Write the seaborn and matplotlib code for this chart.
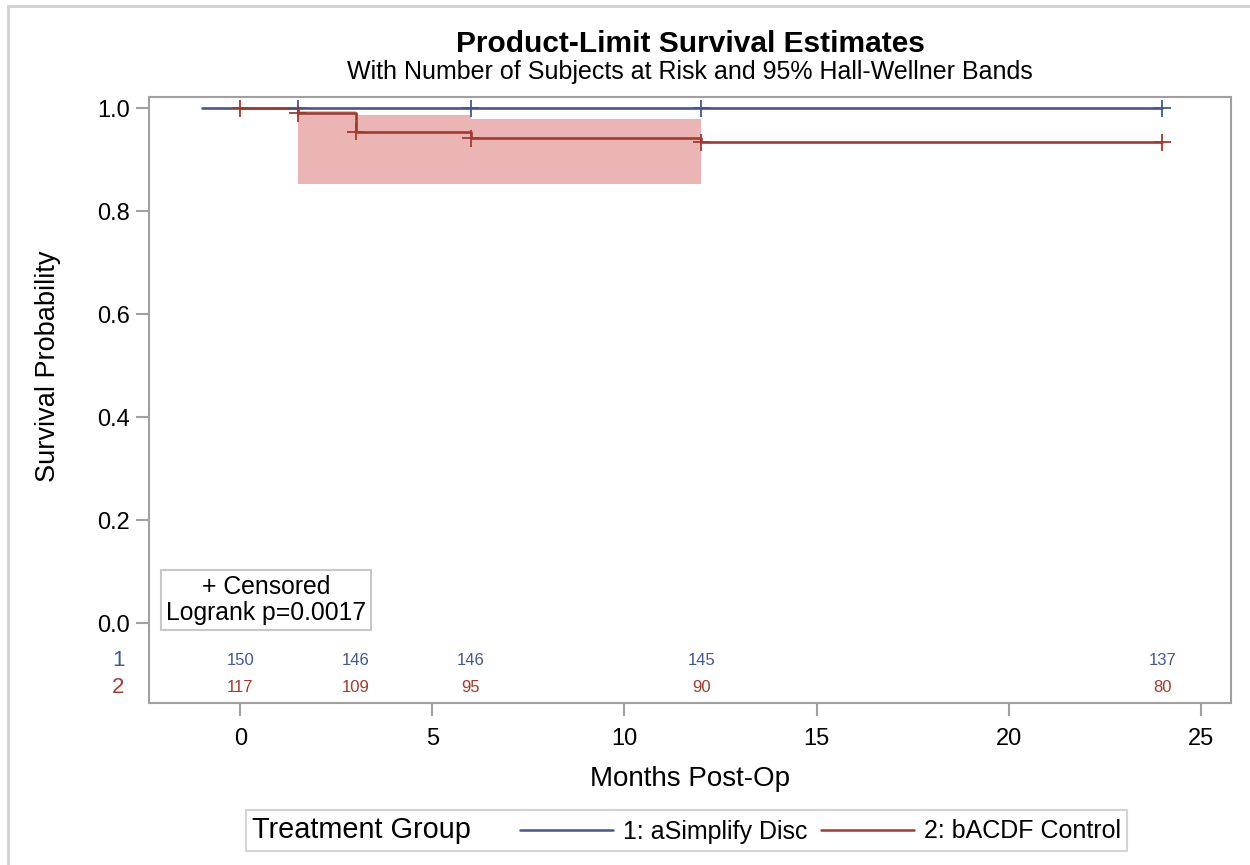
import numpy as np
import pandas as pd
import matplotlib
matplotlib.use("Agg")
import matplotlib.pyplot as plt
from matplotlib.lines import Line2D
from matplotlib.patches import Rectangle
from matplotlib.offsetbox import DrawingArea
import seaborn as sns

# ---------------- data ----------------
group_labels = ["1: aSimplify Disc", "2: bACDF Control"]
blue_time = [-1.0, 24.0]
blue_surv = [1.0, 1.0]
blue_cens_time = [1.5, 6.0, 12.0, 24.0]
blue_cens_surv = [1.0, 1.0, 1.0, 1.0]

red_time = [0.0, 1.5, 3.0, 6.0, 12.0, 24.0]
red_surv = [1.0, 0.990, 0.954, 0.942, 0.934, 0.934]
red_cens_time = [0.0, 1.5, 3.0, 6.0, 12.0, 24.0]
red_cens_surv = [1.0, 0.990, 0.954, 0.942, 0.934, 0.934]

band_time = [1.5, 3.0, 6.0, 12.0]
band_upper = [0.995, 0.987, 0.980, 0.980]
band_lower = [0.853, 0.853, 0.853, 0.853]

risk_times = [0, 3, 6, 12, 24]
risk_blue = [150, 146, 146, 145, 137]
risk_red = [117, 109, 95, 90, 80]

x_ticks = [0, 5, 10, 15, 20, 25]
y_ticks = [0.0, 0.2, 0.4, 0.6, 0.8, 1.0]

BLUE = "#445694"
RED = "#A23A2E"
BAND = "#EAB5B4"
GRAY = "#A0A0A0"

sns.set_theme(style="white")
plt.rcParams["font.family"] = ["Liberation Sans", "DejaVu Sans"]
plt.rcParams["text.color"] = "black"
plt.rcParams["axes.labelcolor"] = "black"

fig = plt.figure(figsize=(12.5, 8.65), dpi=100)
ax = fig.add_axes([149 / 1250, 1 - 703.3 / 865, (1231 - 149) / 1250, (703.3 - 96.7) / 865])

curves = pd.DataFrame({
    "time": blue_time + red_time,
    "surv": blue_surv + red_surv,
    "group": [group_labels[0]] * len(blue_time) + [group_labels[1]] * len(red_time),
})
cens = pd.DataFrame({
    "time": blue_cens_time + red_cens_time,
    "surv": blue_cens_surv + red_cens_surv,
    "group": [group_labels[0]] * len(blue_cens_time) + [group_labels[1]] * len(red_cens_time),
})
pal = {group_labels[0]: BLUE, group_labels[1]: RED}

# confidence band
ax.fill_between(band_time, band_lower, band_upper, step="post",
                color=BAND, linewidth=0, zorder=1)

sns.lineplot(data=curves, x="time", y="surv", hue="group", palette=pal,
             estimator=None, sort=False, drawstyle="steps-post",
             linewidth=1.9, legend=False, ax=ax, zorder=3)
sns.scatterplot(data=cens, x="time", y="surv", hue="group", palette=pal,
                marker="+", s=150, linewidth=1.3, legend=False, ax=ax, zorder=4)

ax.set_xlim(-2.376, 25.79)
ax.set_ylim(-0.155, 1.0225)
ax.set_xticks(x_ticks)
ax.set_yticks(y_ticks)
ax.set_yticklabels([f"{v:.1f}" for v in y_ticks])
ax.tick_params(axis="both", which="major", direction="out", length=9.5, width=1.5,
               color=GRAY, labelsize=17, pad=4, labelcolor="black",
               bottom=True, left=True)
ax.tick_params(axis="x", pad=8)
for sp in ax.spines.values():
    sp.set_color(GRAY)
    sp.set_linewidth(1.5)
    sp.set_visible(True)

ax.set_xlabel("Months Post-Op", fontsize=20, labelpad=12)
ax.set_ylabel("Survival Probability", fontsize=19.5)
ax.yaxis.set_label_coords(-0.0812, (0.5 + 0.155) / (1.0225 + 0.155))

# numbers at risk
for t, nb, nr in zip(risk_times, risk_blue, risk_red):
    ax.text(t, -0.071, str(nb), color=BLUE, fontsize=12, ha="center", va="center")
    ax.text(t, -0.125, str(nr), color=RED, fontsize=12, ha="center", va="center")
ax.text(-3.18, -0.071, "1", color=BLUE, fontsize=16, ha="center", va="center", clip_on=False)
ax.text(-3.18, -0.125, "2", color=RED, fontsize=16, ha="center", va="center", clip_on=False)

# censored / logrank box
ax.text(0.67, 0.046, "+ Censored\nLogrank p=0.0017", fontsize=17.8, ha="center", va="center",
        linespacing=1.1,
        bbox=dict(boxstyle="square,pad=0.2", facecolor="white", edgecolor="#C8C8C8", linewidth=1.5))

# titles
fig.text(0.552, 1 - 44 / 865, "Product-Limit Survival Estimates", fontsize=21.5,
         fontweight="bold", ha="center", va="center", color="black")
fig.text(0.552, 1 - 72 / 865, "With Number of Subjects at Risk and 95% Hall-Wellner Bands",
         fontsize=18, ha="center", va="center", color="black")

# legend
handles = [Line2D([], [], color=BLUE, linewidth=1.8), Line2D([], [], color=RED, linewidth=1.8)]
leg = fig.legend(handles, group_labels, loc="center", bbox_to_anchor=(0.549, 1 - 830.5 / 865),
                 ncol=2, fontsize=18, title="Treatment Group", title_fontsize=20.8,
                 frameon=True, fancybox=False, edgecolor="#C8C8C8", handlelength=3.7,
                 handletextpad=0.4, columnspacing=0.55, borderpad=0.25)
leg.get_frame().set_linewidth(1.5)
c = leg.get_children()[0]
title_box = c.get_children()[0]
hpack = c.get_children()[1]
c._children = [hpack]
hpack._children = [title_box, DrawingArea(16, 1)] + hpack.get_children()

# outer border
fig.patches.append(Rectangle((8 / 1250, -0.1), 1.2, 1 - 6 / 865 + 0.1, transform=fig.transFigure,
                             fill=False, edgecolor="#D0D0D0", linewidth=2))

fig.savefig("out.png", dpi=100)
